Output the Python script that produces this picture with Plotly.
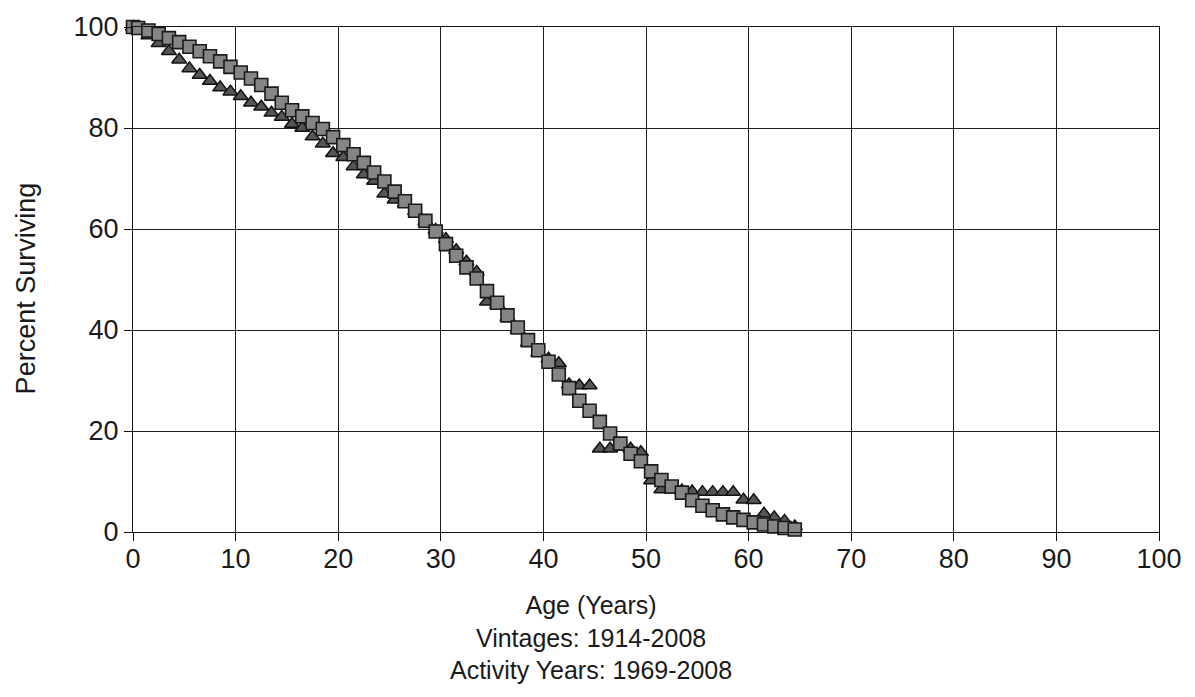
import plotly.graph_objects as go

# Age at start of each interval (years)
ages = [0, 0.5, 1.5, 2.5, 3.5, 4.5, 5.5, 6.5, 7.5, 8.5, 9.5,
        10.5, 11.5, 12.5, 13.5, 14.5, 15.5, 16.5, 17.5, 18.5, 19.5,
        20.5, 21.5, 22.5, 23.5, 24.5, 25.5, 26.5, 27.5, 28.5, 29.5,
        30.5, 31.5, 32.5, 33.5, 34.5, 35.5, 36.5, 37.5, 38.5, 39.5,
        40.5, 41.5, 42.5, 43.5, 44.5, 45.5, 46.5, 47.5, 48.5, 49.5,
        50.5, 51.5, 52.5, 53.5, 54.5, 55.5, 56.5, 57.5, 58.5, 59.5,
        60.5, 61.5, 62.5, 63.5, 64.5]

# Percent surviving - square series
square_pct = [100, 99.8, 99.3, 98.6, 97.8, 97.0, 96.1, 95.2, 94.2, 93.2, 92.1,
              91.0, 89.8, 88.5, 86.8, 85.0, 83.5, 82.3, 81.0, 79.8, 78.2,
              76.6, 74.8, 73.1, 71.2, 69.4, 67.4, 65.5, 63.6, 61.6, 59.5,
              57.0, 54.7, 52.4, 50.2, 47.7, 45.4, 42.9, 40.5, 38.0, 36.0,
              33.7, 31.2, 28.5, 26.0, 24.0, 21.8, 19.5, 17.5, 15.5, 14.0,
              12.0, 10.3, 9.0, 7.8, 6.3, 5.2, 4.3, 3.5, 2.9, 2.4,
              1.9, 1.5, 1.1, 0.8, 0.5]

# Percent surviving - triangle series
triangle_pct = [100, 99.5, 98.3, 96.8, 95.2, 93.5, 91.8, 90.5, 89.3, 88.0, 87.2,
                86.3, 85.0, 84.2, 83.0, 82.2, 80.8, 80.0, 78.3, 76.9, 75.0,
                74.2, 72.4, 70.8, 69.5, 67.0, 65.8, 65.0, 63.5, 61.5, 59.8,
                58.0, 55.8, 53.5, 51.5, 45.6, 45.0, 42.5, 40.0, 37.5, 35.5,
                34.3, 33.4, 29.2, 29.0, 29.0, 16.5, 16.5, 17.0, 16.5, 15.8,
                10.2, 8.4, 8.4, 8.2, 8.0, 7.9, 7.9, 7.9, 7.9, 6.4,
                6.3, 3.6, 2.9, 2.2, 1.1]

x_ticks = [0, 10, 20, 30, 40, 50, 60, 70, 80, 90, 100]
y_ticks = [0, 20, 40, 60, 80, 100]

FONT = "Liberation Sans, Arial, sans-serif"

fig = go.Figure()
fig.add_trace(go.Scatter(
    x=ages, y=triangle_pct, mode="markers", cliponaxis=False,
    marker=dict(symbol="triangle-up", size=13, color="#555555",
                line=dict(color="#111111", width=1.5)),
    showlegend=False))
fig.add_trace(go.Scatter(
    x=ages, y=square_pct, mode="markers", cliponaxis=False,
    marker=dict(symbol="square", size=13, color="#858585",
                line=dict(color="#1a1a1a", width=1.6)),
    showlegend=False))

axis_common = dict(
    showline=True, mirror=True, linecolor="#111111", linewidth=1.3,
    showgrid=True, gridcolor="#1e1e1e", gridwidth=1.2,
    zeroline=False, ticks="outside", ticklen=8, tickcolor="#111111",
    tickfont=dict(family=FONT, size=27, color="#1a1a1a"),
)

fig.update_xaxes(range=[0, 100], tickvals=x_ticks, ticklabelstandoff=-6, **axis_common)
fig.update_yaxes(range=[0, 100], tickvals=y_ticks, **axis_common)

title_font = dict(family=FONT, size=27, color="#1a1a1a")
xtitle_font = dict(family=FONT, size=25, color="#1a1a1a")
annotations = [
    dict(text="Percent Surviving", x=-0.104, y=0.483, xref="paper", yref="paper",
         textangle=-90, showarrow=False, font=title_font,
         xanchor="center", yanchor="middle"),
    dict(text="Age (Years)<br>Vintages: 1914-2008<br>Activity Years: 1969-2008",
         x=0.446, y=-0.2085, xref="paper", yref="paper",
         showarrow=False, font=xtitle_font, xanchor="center", yanchor="middle",
         align="center"),
]

fig.update_layout(
    width=1195, height=697,
    margin=dict(l=133, r=36, t=21, b=165),
    paper_bgcolor="white", plot_bgcolor="white",
    annotations=annotations,
    showlegend=False,
)

fig.write_html("out.html")
